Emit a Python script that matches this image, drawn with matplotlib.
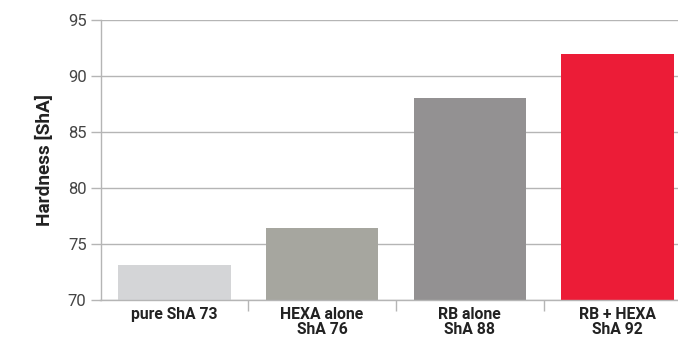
import matplotlib.pyplot as plt
import numpy as np

categories = ["pure ShA 73", "HEXA alone\nShA 76", "RB alone\nShA 88", "RB + HEXA\nShA 92"]
hardness = [73.1, 76.4, 88.0, 92.0]
colors = ["#d4d5d7", "#a6a69f", "#939192", "#ec1c37"]
yticks = [70, 75, 80, 85, 90, 95]

plt.rcParams['font.family'] = ['Roboto', 'DejaVu Sans']

fig = plt.figure(figsize=(6.78, 3.38), dpi=100)
ax = fig.add_axes([100.5 / 678, 38 / 338, (678 - 100.5) / 678, 280 / 338])

x = np.arange(len(categories))
ax.bar(x, hardness, width=0.76, color=colors, zorder=3, bottom=0)

ax.set_ylim(70, 95)
ax.set_xlim(-0.5, 3.5 - 13.5 / 148)
ax.set_yticks(yticks)
ax.set_yticklabels([str(v) for v in yticks], fontsize=12, color="#444444")
ax.yaxis.grid(True, color="#b5b5b5", linewidth=1.0, zorder=0)
ax.tick_params(axis="y", length=7, width=1, color="#b5b5b5", pad=3)

# category labels centred under bars, tick marks between categories
ax.set_xticks(x)
ax.set_xticklabels(categories, fontsize=11.3, fontweight="bold", color="#222222",
                   linespacing=1.0)
ax.tick_params(axis="x", length=0, pad=5)
ax.set_xticks([0.5, 1.5, 2.5], minor=True)
ax.tick_params(axis="x", which="minor", length=8, width=1, color="#b5b5b5")

for side in ["top", "right"]:
    ax.spines[side].set_visible(False)
for side in ["left", "bottom"]:
    ax.spines[side].set_color("#b5b5b5")
    ax.spines[side].set_linewidth(1.0)
ax.spines["bottom"].set_zorder(4)

ax.set_ylabel("Hardness [ShA]", fontsize=13.7, fontweight="bold", color="#222222",
              labelpad=10)

fig.savefig("out.png", dpi=100)
